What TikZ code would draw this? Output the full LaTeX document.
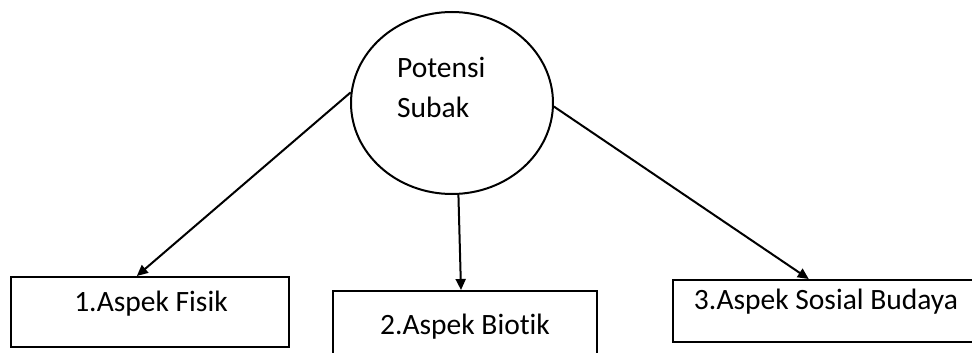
\documentclass[tikz,border=0pt]{standalone}
\usepackage{fontspec}
\setmainfont{Carlito}[Ligatures=NoCommon]
\usetikzlibrary{shapes.geometric,arrows.meta,calc}
\begin{document}
\begin{tikzpicture}[x=1pt,y=-1pt,
  lw/.style={line width=2pt},
  bubble/.style={draw,lw,ellipse,inner sep=0pt,minimum width=202pt,minimum height=182pt},
  boxnode/.style={draw,lw,rectangle,inner sep=0pt},
  txt/.style={font=\fontsize{29.5}{40}\selectfont,inner sep=0pt},
  arr/.style={lw,-{Triangle[length=11pt,width=10pt]}}]
\useasboundingbox (0,0) rectangle (972,353);
\node[bubble] (e) at (452,103) {};
\node[txt,align=left,anchor=west] (et) at (397,87) {Potensi\\Subak};
\node[boxnode,minimum width=278pt,minimum height=70pt] (b1) at (150,312) {};
\node[txt] (t1) at (151,304) {1.Aspek Fisik};
\node[boxnode,minimum width=264pt,minimum height=72pt] (b2) at (465,327) {};
\node[txt] (t2) at (465,327) {2.Aspek Biotik};
\node[boxnode,minimum width=306pt,minimum height=62pt] (b3) at (826,311) {};
\node[txt] (t3) at (826,302) {3.Aspek Sosial Budaya};
\draw[arr] (e.174.5) -- ($(b1.north west)!0.453!(b1.north east)$);
\draw[arr] (e.-86.9) -- ($(b2.north west)!0.485!(b2.north east)$);
\draw[arr] (e.-2.3) -- ($(b3.north west)!0.444!(b3.north east)$);
\end{tikzpicture}
\end{document}
